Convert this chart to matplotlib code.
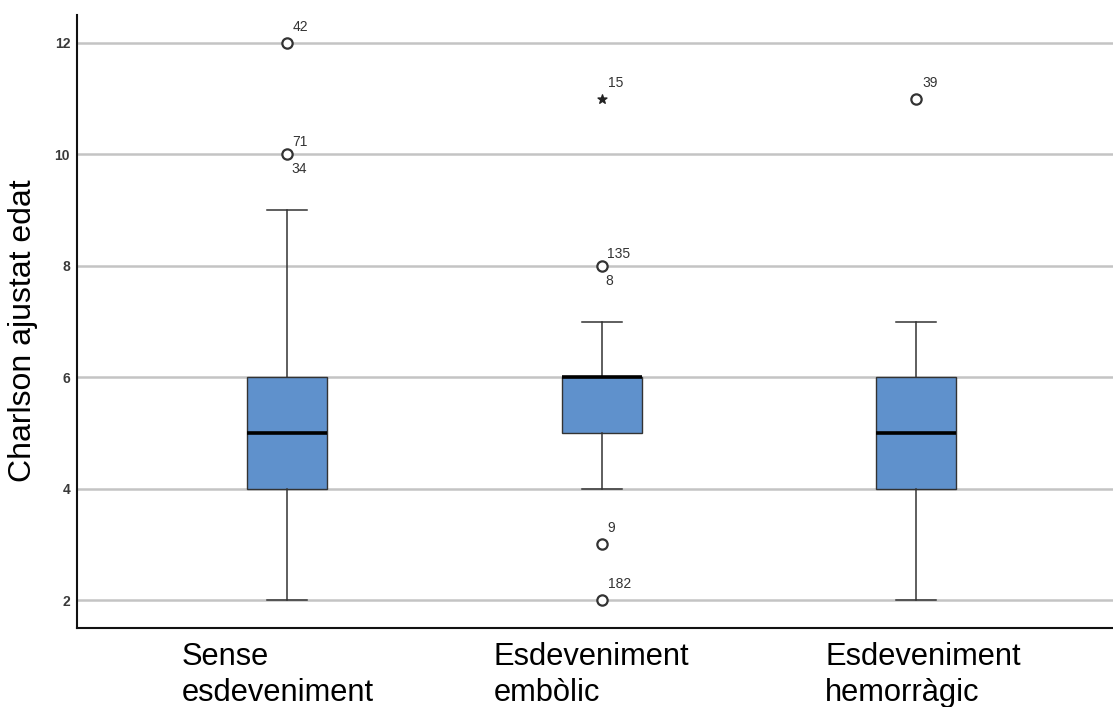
import matplotlib
matplotlib.use("Agg")
import matplotlib.pyplot as plt
from matplotlib.transforms import ScaledTranslation

plt.rcParams['font.family'] = ['Liberation Sans', 'DejaVu Sans']

# Groups and box summary statistics
categories = ["Sense\nesdeveniment", "Esdeveniment\nembòlic", "Esdeveniment\nhemorràgic"]
whisker_low = [2, 4, 2]
q1 = [4, 5, 4]
median = [5, 6, 5]
q3 = [6, 6, 6]
whisker_high = [9, 7, 7]

# Outliers: (group index, value, case labels)
outlier_group = [0, 0, 1, 1, 1, 2]
outlier_value = [12, 10, 8, 3, 2, 11]
outlier_cases = [["42"], ["71", "34"], ["135", "8"], ["9"], ["182"], ["39"]]

# Extreme values (drawn as stars)
extreme_group = [1]
extreme_value = [11]
extreme_cases = [["15"]]

positions = [1, 2, 3]
box_color = "#5f91cc"
edge_color = "#333333"

fig = plt.figure(figsize=(11.13, 7.07), dpi=100)
ax = fig.add_axes([77 / 1113, 1 - 628 / 707, 1 - 77 / 1113, (628 - 15) / 707])

stats = []
for i in range(len(categories)):
    stats.append(dict(whislo=whisker_low[i], q1=q1[i], med=median[i], q3=q3[i],
                      whishi=whisker_high[i], fliers=[]))

ax.bxp(stats, positions=positions, widths=0.254, patch_artist=True,
       showfliers=False,
       boxprops=dict(facecolor=box_color, edgecolor=edge_color, linewidth=1.0),
       medianprops=dict(color="black", linewidth=2.6),
       whiskerprops=dict(color=edge_color, linewidth=1.1),
       capprops=dict(color=edge_color, linewidth=1.1),
       capwidths=0.127, zorder=3)

# Outlier circles
ox = [positions[g] for g in outlier_group]
ax.scatter(ox, outlier_value, s=55, facecolors="white", edgecolors=edge_color,
           linewidths=1.6, zorder=4)
ex = [positions[g] for g in extreme_group]
ax.scatter(ex, extreme_value, s=45, marker="*", color="#222222", zorder=4)

label_kw = dict(textcoords="offset pixels", ha="left", va="center",
                fontsize=10, color="#333333")

def label_cases(x, y, cases):
    if len(cases) == 1:
        ax.annotate(cases[0], (x, y), xytext=(6, 16), **label_kw)
    else:
        ax.annotate(cases[0], (x, y), xytext=(5, 12), **label_kw)
        ax.annotate(cases[1], (x, y), xytext=(4, -15), **label_kw)

for x, y, c in zip(ox, outlier_value, outlier_cases):
    label_cases(x, y, c)
for x, y, c in zip(ex, extreme_value, extreme_cases):
    label_cases(x, y, c)

ax.set_ylim(1.5, 12.5)
ax.set_xlim(0.332, 3.626)
ax.set_yticks([2, 4, 6, 8, 10, 12])
ax.yaxis.grid(True, color="#c4c4c4", linewidth=1.8, zorder=0)
ax.set_axisbelow(True)
ax.tick_params(axis="y", length=0, pad=5, labelsize=10, labelcolor="#3a3a3a")
for t in ax.get_yticklabels():
    t.set_fontweight("bold")
ax.tick_params(axis="x", length=0, pad=10)

ax.set_xticks(positions)
ax.set_xticklabels(categories, fontsize=22.2, ha="left", multialignment="left",
                   linespacing=1.27)
# shift each multi-line label so its left edge sits just left of the box
label_shift_px = [-105, -108, -91]
for t, dx in zip(ax.get_xticklabels(), label_shift_px):
    t.set_transform(t.get_transform() + ScaledTranslation(dx / 100, 0, fig.dpi_scale_trans))

ax.set_ylabel("Charlson ajustat edat", fontsize=23)
ax.yaxis.set_label_coords(-0.0376, 0.4845)

for side in ("top", "right"):
    ax.spines[side].set_visible(False)
for side in ("left", "bottom"):
    ax.spines[side].set_linewidth(1.5)
    ax.spines[side].set_color("#111111")

fig.savefig("out.png", dpi=100)
